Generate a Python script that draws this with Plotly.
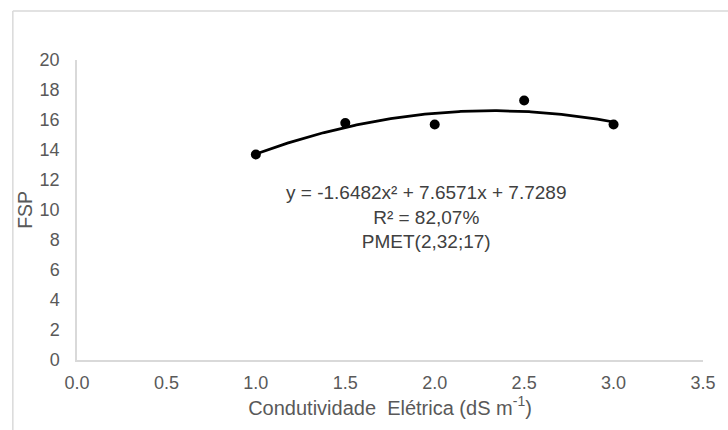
import numpy as np
import plotly.graph_objects as go

# Data
ce = [1.0, 1.5, 2.0, 2.5, 3.0]
fsp = [13.7, 15.8, 15.7, 17.3, 15.7]
coef = [-1.6482, 7.6571, 7.7289]  # a, b, c of y = a x^2 + b x + c
x_ticks = [0.0, 0.5, 1.0, 1.5, 2.0, 2.5, 3.0, 3.5]
y_ticks = [0, 2, 4, 6, 8, 10, 12, 14, 16, 18, 20]

xf = np.linspace(min(ce), max(ce), 200)
yf = coef[0] * xf**2 + coef[1] * xf + coef[2]

FONT = "Liberation Sans, Arial, sans-serif"
GRAY = "#595959"

fig = go.Figure()
fig.add_trace(go.Scatter(x=xf, y=yf, mode="lines",
                         line=dict(color="black", width=2.75), showlegend=False,
                         hoverinfo="skip"))
fig.add_trace(go.Scatter(x=ce, y=fsp, mode="markers",
                         marker=dict(color="black", size=10), showlegend=False))

fig.update_layout(
    width=728, height=430,
    margin=dict(l=77, r=15, t=60, b=70),
    paper_bgcolor="white", plot_bgcolor="white",
    font=dict(family=FONT, size=18, color=GRAY),
    xaxis=dict(range=[0, 3.5], tickvals=x_ticks,
               ticktext=[f"{v:.1f}" for v in x_ticks],
               showgrid=False, zeroline=False, showline=True,
               linecolor="#d9d9d9", linewidth=1.5,
               ticks="outside", ticklen=6, tickcolor="rgba(0,0,0,0)",
               tickfont=dict(size=18, color=GRAY, family=FONT),
               title=dict(text="Condutividade  Elétrica (dS m<sup>-1</sup>)",
                          font=dict(size=20, color=GRAY, family=FONT), standoff=6)),
    yaxis=dict(range=[0, 20], tickvals=y_ticks,
               showgrid=False, zeroline=False, showline=True,
               linecolor="#d9d9d9", linewidth=1.5,
               ticks="outside", ticklen=12, tickcolor="rgba(0,0,0,0)",
               tickfont=dict(size=18, color=GRAY, family=FONT)),
    annotations=[
        dict(x=1.954, y=9.53, xref="x", yref="y", showarrow=False,
             text="y = -1.6482x² + 7.6571x + 7.7289<br>R² = 82,07%<br>PMET(2,32;17)",
             align="center", font=dict(size=19, color="#404040", family=FONT)),
        dict(x=-0.0833, y=0.5, xref="paper", yref="paper", showarrow=False,
             text="FSP", textangle=-90, xanchor="center", yanchor="middle",
             font=dict(size=19.5, color=GRAY, family=FONT)),
    ],
    shapes=[
        dict(type="line", xref="paper", yref="paper", x0=-0.1025, x1=-0.1025,
             y0=1.163, y1=-0.3, line=dict(color="#d9d9d9", width=1.5)),
        dict(type="line", xref="paper", yref="paper", x0=-0.1025, x1=1.1,
             y0=1.163, y1=1.163, line=dict(color="#d9d9d9", width=1.5)),
    ],
)

fig.write_html("out.html", config={"displayModeBar": False},
               post_script="document.body.style.margin='0';document.body.style.padding='0';")
